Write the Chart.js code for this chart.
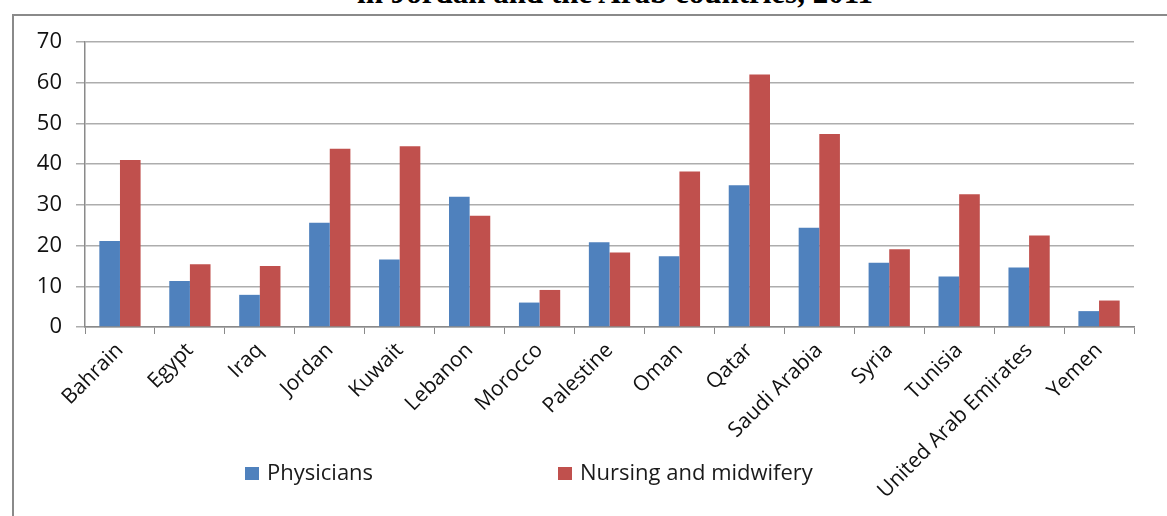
<!DOCTYPE html>
<html>
<head>
<meta charset="utf-8">
<script src="https://cdn.jsdelivr.net/npm/chart.js@4.4.1/dist/chart.umd.min.js"></script>
<style>
  html, body { margin: 0; padding: 0; background: #fff; overflow: hidden; }
  #wrap { position: relative; width: 1167px; height: 516px; }
  #frame { position: absolute; left: 12px; top: 14px; width: 1200px; height: 600px;
           border-left: 2px solid #8a8a8a; border-top: 2px solid #8a8a8a; }
  #title { position: absolute; left: 0; width: 1230px; top: -23px; text-align: center;
           font: bold 31px "Liberation Serif", "DejaVu Serif", serif; color: #000; line-height: 1; }
  canvas { position: absolute; left: 0; top: 0; }
  #legend { position: absolute; top: 456px; left: 245px; font: 22px "Open Sans", sans-serif; color: #1a1a1a; }
  #legend span.item { position: absolute; white-space: nowrap; }
  #legend i { display: inline-block; width: 14px; height: 13px; margin-right: 8px; vertical-align: 0px; }
</style>
</head>
<body>
<div id="wrap">
  <div id="frame"></div>
  <div id="title">in Jordan and the Arab countries, 2011</div>
  <canvas id="grafico" width="1167" height="516"></canvas>
  <div id="legend"></div>
</div>
<script>
// ===============================
// DATA
// ===============================

const countries = [
    "Bahrain", "Egypt", "Iraq", "Jordan", "Kuwait", "Lebanon", "Morocco", "Palestine",
    "Oman", "Qatar", "Saudi Arabia", "Syria", "Tunisia", "United Arab Emirates", "Yemen"
];

// per 10,000 population
const physicians = [21.1, 11.3, 7.9, 25.6, 16.6, 32.0, 6.0, 20.8, 17.4, 34.8, 24.4, 15.8, 12.4, 14.6, 3.9];
const nursing = [41.0, 15.4, 15.0, 43.8, 44.4, 27.3, 9.1, 18.3, 38.2, 62.0, 47.4, 19.1, 32.6, 22.5, 6.5];

const seriesNames = ["Physicians", "Nursing and midwifery"];
const seriesColors = ["#4F81BD", "#C0504D"];
const yTicks = [0, 10, 20, 30, 40, 50, 60, 70];


// ===============================
// CHART
// ===============================

const chart = new Chart(document.getElementById("grafico"), {
    type: "bar",
    data: {
        labels: countries,
        datasets: [
            { label: seriesNames[0], data: physicians, backgroundColor: seriesColors[0] },
            { label: seriesNames[1], data: nursing, backgroundColor: seriesColors[1] }
        ]
    },
    options: {
        responsive: false,
        animation: false,
        layout: { padding: { left: 0, top: 42, right: 33, bottom: 0 } },
        datasets: {
            bar: { categoryPercentage: 0.59, barPercentage: 1.0, borderWidth: 0 }
        },
        plugins: {
            legend: { display: false },
            tooltip: { enabled: false }
        },
        scales: {
            x: {
                afterFit: (s) => { s.height = 189; },
                grid: {
                    display: true,
                    drawOnChartArea: false,
                    offset: true,
                    tickLength: 7,
                    color: "#8a8a8a",
                    lineWidth: 1
                },
                border: { display: true, color: "#8a8a8a", width: 1.5 },
                ticks: {
                    minRotation: 45,
                    maxRotation: 45,
                    autoSkip: false,
                    padding: 4,
                    color: "#111",
                    font: { family: "'Open Sans', sans-serif", size: 21 }
                }
            },
            y: {
                min: 0,
                max: 70,
                afterFit: (s) => { s.width = 85; },
                afterBuildTicks: (s) => { s.ticks = yTicks.map(v => ({ value: v })); },
                grid: {
                    color: "#adadad",
                    lineWidth: 1.5,
                    tickLength: 9
                },
                border: { display: true, color: "#8a8a8a", width: 1.5 },
                ticks: {
                    padding: 14,
                    color: "#111",
                    font: { family: "'Open Sans', sans-serif", size: 22 }
                }
            }
        }
    }
});

// legend (Excel places it below the plot, over the label area)
const legend = document.getElementById("legend");
const legendX = [0, 313];
seriesNames.forEach((name, i) => {
    const el = document.createElement("span");
    el.className = "item";
    el.style.left = legendX[i] + "px";
    el.innerHTML = '<i style="background:' + seriesColors[i] + '"></i>' + name;
    legend.appendChild(el);
});
</script>
</body>
</html>
